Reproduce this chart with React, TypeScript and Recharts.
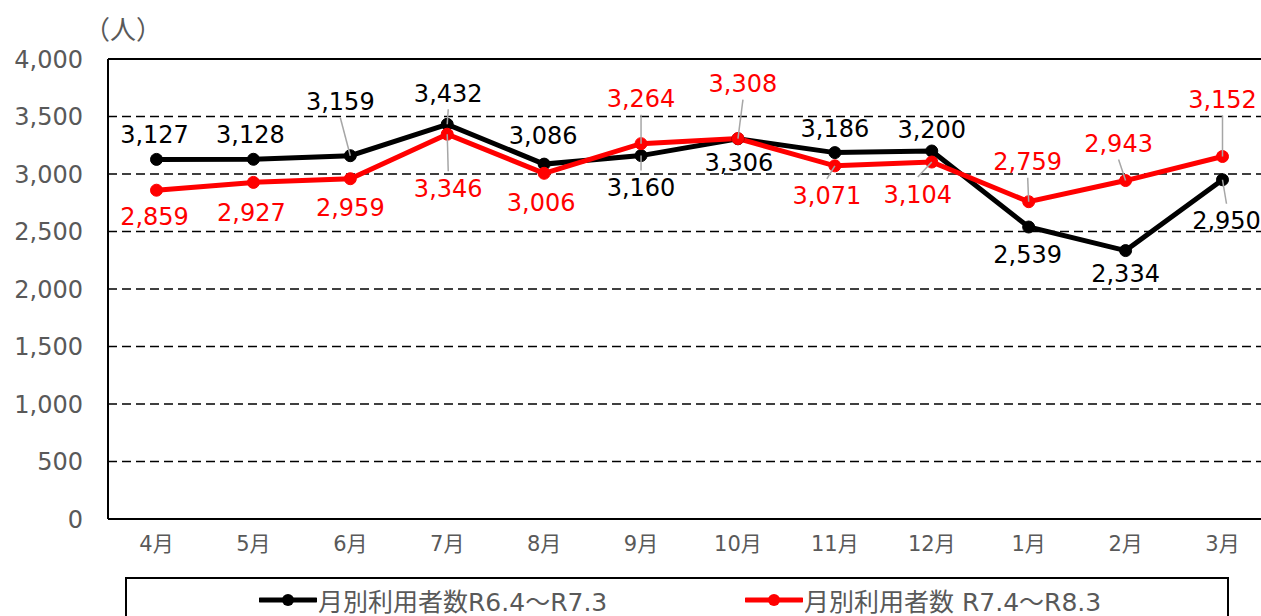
import React from 'react';
import { LineChart, Line, XAxis, YAxis, CartesianGrid, LabelList, ReferenceLine } from 'recharts';

const months = ['4月', '5月', '6月', '7月', '8月', '9月', '10月', '11月', '12月', '1月', '2月', '3月'];
const usersR6 = [3127, 3128, 3159, 3432, 3086, 3160, 3306, 3186, 3200, 2539, 2334, 2950];
const usersR7 = [2859, 2927, 2959, 3346, 3006, 3264, 3308, 3071, 3104, 2759, 2943, 3152];
const yTicks = [0, 500, 1000, 1500, 2000, 2500, 3000, 3500, 4000];
const seriesNames = ['月別利用者数R6.4～R7.3', '月別利用者数 R7.4～R8.3'];

// label placement (dx, dy from the point, leader line yes/no)
const placeR6: [number, number, boolean][] = [
  [-2, -25, false], [-3, -25, false], [-10, -54, true], [1, -31, true],
  [-1, -29, false], [0, 32, true], [1, 24, false], [0, -24, false],
  [0, -22, false], [-1, 27, false], [0, 23, false], [4, 41, true],
];
const placeR7: [number, number, boolean][] = [
  [-2, 26, false], [-2, 30, false], [0, 29, false], [1, 54, true],
  [-3, 29, false], [0, -45, true], [5, -55, true], [-8, 30, true],
  [-14, 32, true], [-1, -40, true], [-7, -37, true], [0, -57, true],
];

const data = months.map((m, i) => ({ month: m, r6: usersR6[i], r7: usersR7[i] }));

const numFont = "'DejaVu Sans', 'Noto Sans CJK JP', sans-serif";
const gray = '#595959';

const makeLabel = (place: [number, number, boolean][], color: string) => (props: any) => {
  const { x, y, value, index } = props;
  const [dx, dy, leader] = place[index];
  const lx = x + dx;
  const ly = y + dy;
  const startY = dy < 0 ? ly + 16 : ly - 17;
  return (
    <g key={`lbl-${color}-${index}`}>
      {leader && <line x1={lx} y1={startY} x2={x} y2={y} stroke="#a6a6a6" strokeWidth={1.5} />}
      <text x={lx} y={ly} dy="0.36em" textAnchor="middle" fill={color} fontSize={24} fontFamily={numFont}>
        {Number(value).toLocaleString('en-US')}
      </text>
    </g>
  );
};

const LegendIcon = ({ color }: { color: string }) => (
  <svg width={58} height={14} style={{ display: 'block' }}>
    <line x1={1} y1={7} x2={57} y2={7} stroke={color} strokeWidth={5} strokeLinecap="round" />
    <circle cx={29} cy={7} r={6} fill={color} />
  </svg>
);

export default function App() {
  return (
    <div style={{ position: 'absolute', left: 0, top: 0, width: 1261, height: 616, overflow: 'hidden', background: '#fff' }}>
      <div style={{ position: 'absolute', left: 84, top: 12, fontSize: 26, color: gray, fontFamily: "'Noto Sans CJK JP', sans-serif", lineHeight: '32px' }}>
        （人）
      </div>
      <LineChart width={1290} height={616} data={data} margin={{ top: 59, right: 19, left: 0, bottom: 0 }}>
        <CartesianGrid vertical={false} stroke="#000" strokeDasharray="9 5" strokeWidth={1.5} />
        <XAxis
          dataKey="month"
          height={97}
          padding={{ left: 48.5, right: 48.5 }}
          axisLine={{ stroke: '#000', strokeWidth: 2 }}
          tickLine={false}
          tickSize={0}
          tickMargin={17}
          tick={{ fill: gray, fontSize: 21, fontFamily: numFont }}
          interval={0}
        />
        <YAxis
          width={108}
          domain={[0, 4000]}
          ticks={yTicks}
          axisLine={{ stroke: '#000', strokeWidth: 2 }}
          tickLine={false}
          tickSize={0}
          tickMargin={25}
          tick={{ fill: gray, fontSize: 24, fontFamily: numFont }}
          tickFormatter={(v: number) => v.toLocaleString('en-US')}
        />
        <ReferenceLine y={4000} stroke="#000" strokeWidth={2} />
        <Line
          dataKey="r6"
          name={seriesNames[0]}
          stroke="#000"
          strokeWidth={5}
          dot={{ r: 6, fill: '#000', stroke: '#000', strokeWidth: 1 }}
          activeDot={false}
          isAnimationActive={false}
        >
          <LabelList dataKey="r6" content={makeLabel(placeR6, '#000')} />
        </Line>
        <Line
          dataKey="r7"
          name={seriesNames[1]}
          stroke="#ff0000"
          strokeWidth={5}
          dot={{ r: 6, fill: '#ff0000', stroke: '#ff0000', strokeWidth: 1 }}
          activeDot={false}
          isAnimationActive={false}
        >
          <LabelList dataKey="r7" content={makeLabel(placeR7, '#ff0000')} />
        </Line>
      </LineChart>
      <div
        style={{
          position: 'absolute', left: 125, top: 577, width: 1104, height: 70,
          border: '2px solid #000', boxSizing: 'border-box', background: '#fff',
        }}
      >
        {[{ c: '#000', left: 132 }, { c: '#ff0000', left: 618 }].map((it, i) => (
          <div key={i} style={{ position: 'absolute', left: it.left, top: 6, display: 'flex', alignItems: 'center', height: 30 }}>
            <LegendIcon color={it.c} />
            <span style={{ marginLeft: 1, fontSize: 25, color: gray, fontFamily: numFont, whiteSpace: 'nowrap' }}>{seriesNames[i]}</span>
          </div>
        ))}
      </div>
    </div>
  );
}
